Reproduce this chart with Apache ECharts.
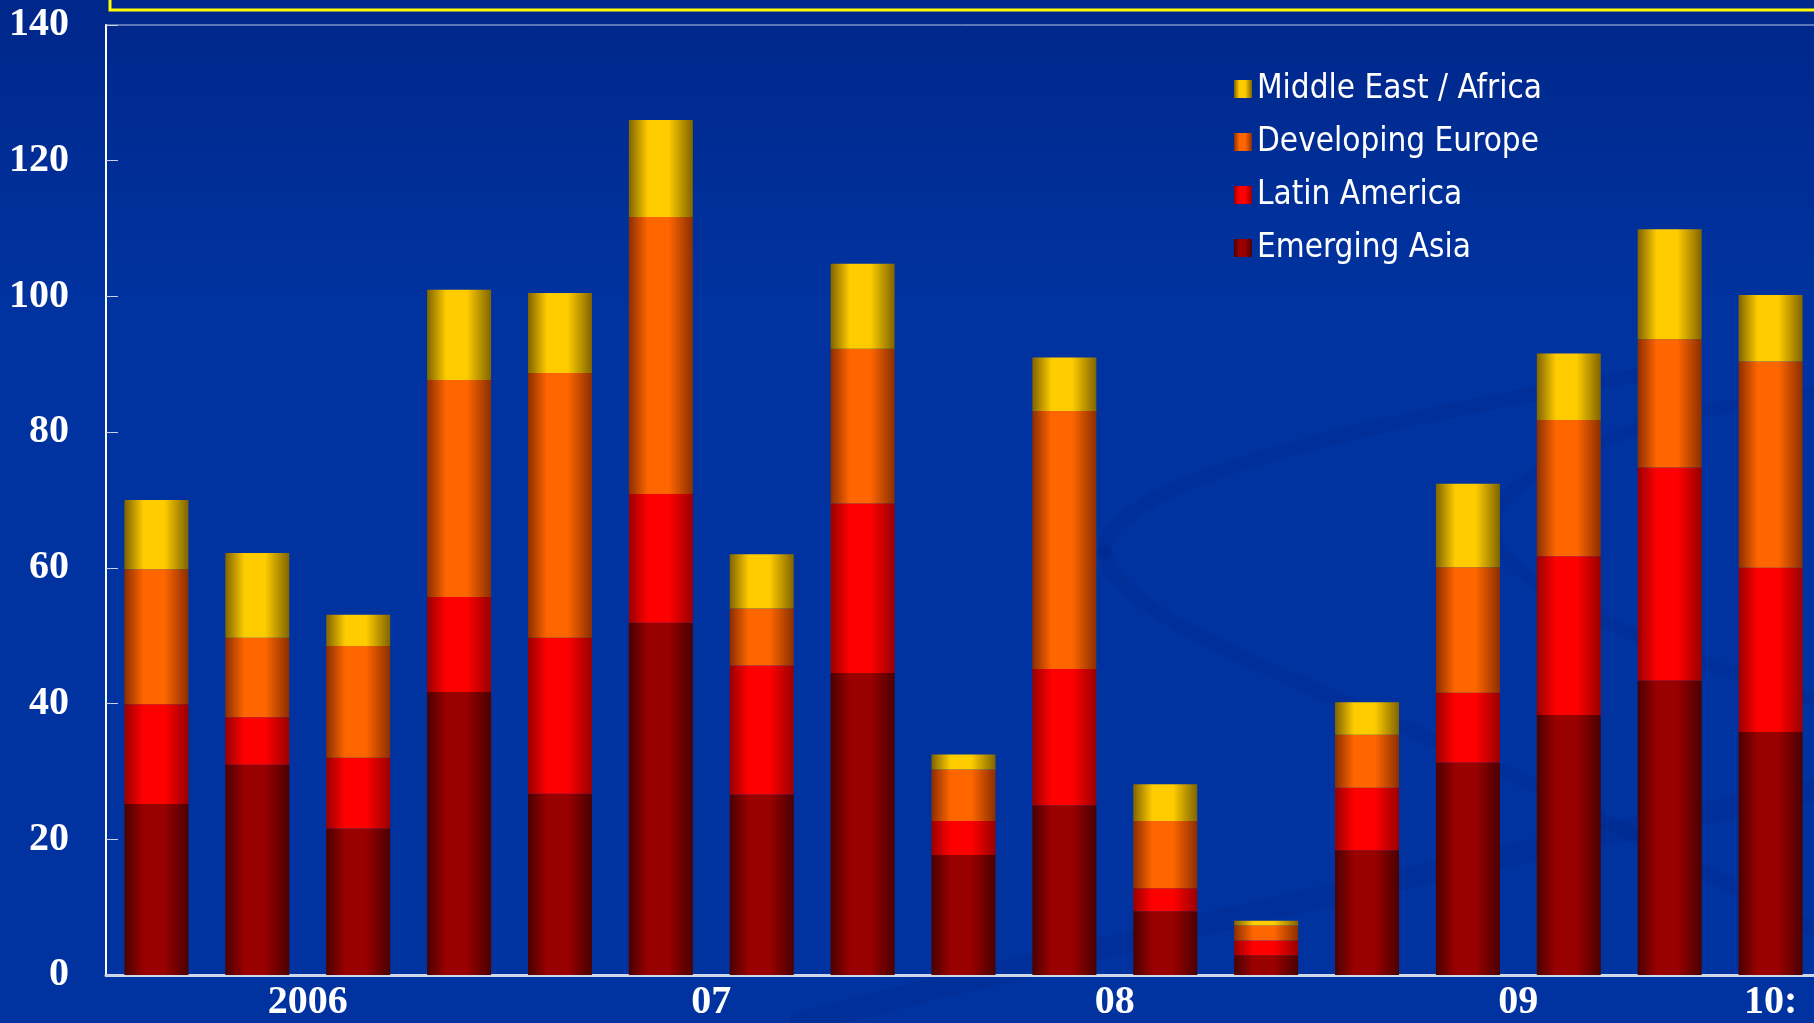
<!DOCTYPE html>
<html>
<head>
<meta charset="utf-8">
<script src="https://cdn.jsdelivr.net/npm/echarts@6/dist/echarts.min.js"></script>
<style>
  html, body { margin: 0; padding: 0; background: #0033a0; }
  #chart { width: 1814px; height: 1023px; }
</style>
</head>
<body>
<div id="chart"></div>
<script>
// quarters, 2006Q1 .. 2010Q1
const quarters = ['2006Q1','2006Q2','2006Q3','2006Q4','2007Q1','2007Q2','2007Q3','2007Q4',
  '2008Q1','2008Q2','2008Q3','2008Q4','2009Q1','2009Q2','2009Q3','2009Q4','2010Q1']
const yearNames = { '2006': '2006', '2007': '07', '2008': '08', '2009': '09', '2010': '10:' }

const emergingAsia = [25.2, 31.0, 21.6, 41.7, 26.7, 51.9, 26.6, 44.5, 17.7, 25.0, 9.4, 2.9, 18.4, 31.3, 38.3, 43.4, 35.8]
const latinAmerica = [14.7, 7.0, 10.4, 14.0, 23.0, 19.0, 19.0, 25.0, 5.0, 20.1, 3.4, 2.2, 9.2, 10.3, 23.4, 31.4, 24.2]
const developingEurope = [19.9, 11.7, 16.5, 32.0, 39.0, 40.8, 8.4, 22.8, 7.6, 38.0, 9.9, 2.2, 7.8, 18.5, 20.1, 18.9, 30.4]
const middleEastAfrica = [10.2, 12.5, 4.6, 13.3, 11.8, 14.3, 8.0, 12.5, 2.2, 7.9, 5.4, 0.7, 4.8, 12.3, 9.8, 16.2, 9.8]

const yTicks = [0, 20, 40, 60, 80, 100, 120, 140]

// year label sits in the middle of that year's bars
const yearCenters = {}
quarters.forEach((q, i) => {
  const y = q.slice(0, 4)
  if (!yearCenters[y]) yearCenters[y] = { first: i, last: i }
  yearCenters[y].last = i
})
const labelAt = {}
Object.keys(yearCenters).forEach(y => {
  const c = (yearCenters[y].first + yearCenters[y].last + 1) / 2
  labelAt[c] = yearNames[y]
})

function cyl(dark, bright) {
  return new echarts.graphic.LinearGradient(0, 0, 1, 0, [
    { offset: 0, color: dark },
    { offset: 0.3, color: bright },
    { offset: 0.62, color: bright },
    { offset: 1, color: dark }
  ])
}

function bar(name, data, dark, bright) {
  return {
    name, type: 'bar', stack: 'total', data, barWidth: 64,
    itemStyle: { color: cyl(dark, bright) }
  }
}

// faint swoosh in the slide background
function curve(p, w) {
  return {
    type: 'bezierCurve', z: -10, silent: true,
    shape: { x1: p[0], y1: p[1], cpx1: p[2], cpy1: p[3], cpx2: p[4], cpy2: p[5], x2: p[6], y2: p[7] },
    style: { fill: null, stroke: 'rgba(0,25,110,0.13)', lineWidth: w, lineCap: 'round' }
  }
}

const chart = echarts.init(document.getElementById('chart'))
chart.setOption({
  backgroundColor: new echarts.graphic.LinearGradient(0, 0, 0, 1, [
    { offset: 0, color: '#00278a' },
    { offset: 0.3, color: '#0033a0' },
    { offset: 1, color: '#0033a0' }
  ]),
  animation: false,
  graphic: [
    curve([1640, 375, 1320, 430, 1100, 490, 1105, 552], 14),
    curve([1105, 552, 1110, 615, 1300, 680, 1480, 760], 14),
    curve([1480, 760, 1600, 815, 1700, 870, 1814, 930], 14),
    curve([1814, 392, 1640, 415, 1492, 470, 1494, 528], 12),
    curve([1494, 528, 1496, 590, 1660, 650, 1814, 700], 12),
    curve([800, 1023, 1100, 945, 1480, 860, 1814, 790], 22),
    { type: 'rect', shape: { x: 110, y: -60, width: 1760, height: 70 },
      style: { fill: null, stroke: '#ffff00', lineWidth: 3 } }
  ],
  grid: { left: 106, width: 1715, top: 25, bottom: 48, outerBoundsMode: 'none',
    show: true, borderColor: '#b8c4e4', borderWidth: 1 },
  legend: {
    orient: 'vertical', left: 1229, top: 66,
    icon: 'rect', itemWidth: 18, itemHeight: 18, itemGap: 17,
    data: ['Middle East / Africa', 'Developing Europe', 'Latin America', 'Emerging Asia'],
    textStyle: { color: '#ffffff', fontSize: 33, lineHeight: 36,
      fontFamily: '"DejaVu Sans Condensed", "DejaVu Sans", sans-serif' }
  },
  xAxis: [{
    type: 'category', data: quarters,
    axisLine: { lineStyle: { color: '#d0d6ea', width: 3 } },
    axisTick: { inside: true, length: 12, lineStyle: { color: '#d0d6ea' },
      interval: (i) => i > 0 && i % 4 === 0 },
    axisLabel: { show: false }
  }, {
    type: 'value', position: 'bottom', min: 0, max: quarters.length, interval: 0.5,
    axisLine: { show: false }, axisTick: { show: false }, splitLine: { show: false },
    axisLabel: {
      margin: 8, color: '#ffffff', fontSize: 40, fontWeight: 'bold',
      fontFamily: '"Liberation Serif", serif',
      formatter: (v) => labelAt[v] || ''
    }
  }],
  yAxis: {
    type: 'value', min: yTicks[0], max: yTicks[yTicks.length - 1], interval: 20,
    axisLine: { show: true, lineStyle: { color: '#ffffff', width: 2 } },
    axisTick: { show: true, inside: true, length: 12, lineStyle: { color: '#c8d0e8' } },
    splitLine: { show: false },
    axisLabel: { margin: 37, color: '#ffffff', fontSize: 40, fontWeight: 'bold',
      fontFamily: '"Liberation Serif", serif' }
  },
  series: [
    bar('Emerging Asia', emergingAsia, '#4a0000', '#990000'),
    bar('Latin America', latinAmerica, '#990000', '#ff0000'),
    bar('Developing Europe', developingEurope, '#8c2e00', '#ff6600'),
    bar('Middle East / Africa', middleEastAfrica, '#806400', '#ffcc00')
  ]
})
</script>
</body>
</html>
